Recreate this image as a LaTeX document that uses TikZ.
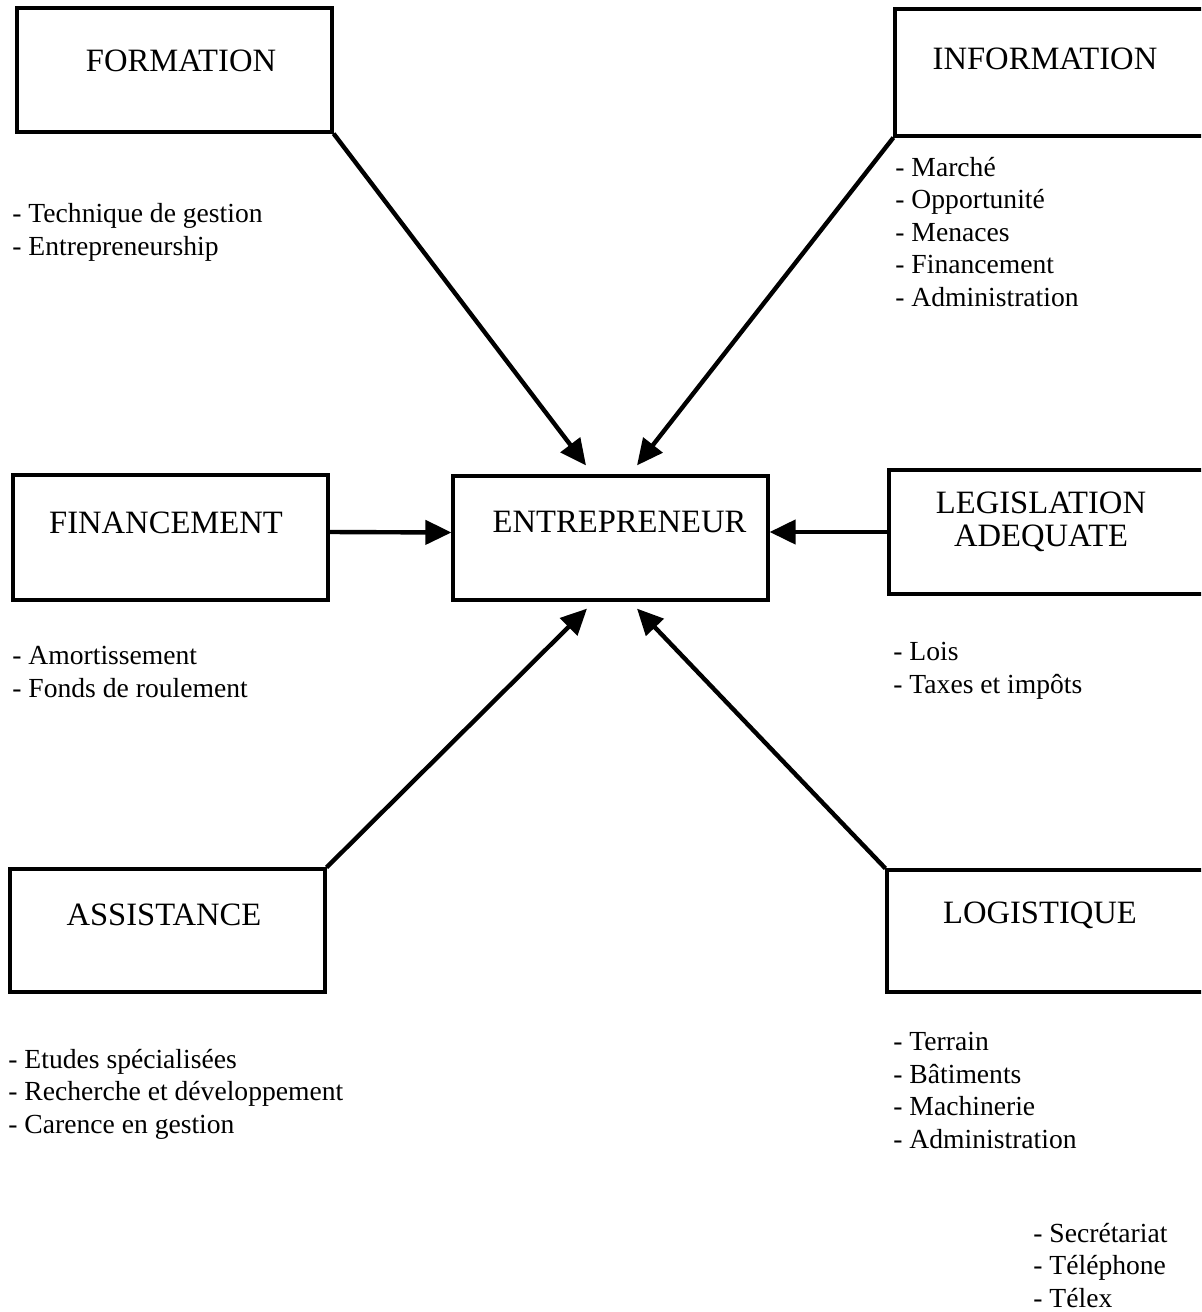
\documentclass[tikz,border=0pt]{standalone}
\usepackage{fontspec}
\setmainfont{Liberation Serif}
\usetikzlibrary{arrows.meta,positioning}

\begin{document}
\begin{tikzpicture}[x=0.5pt, y=-0.5pt,
    box/.style={draw, line width=1.6pt, inner sep=0pt, minimum width=157.5pt, minimum height=62pt},
    titre/.style={font=\fontsize{16.3}{16.5}\selectfont, align=center, inner sep=0pt},
    liste/.style={font=\fontsize{13.8}{16.2}\selectfont, align=left, anchor=base west, inner sep=0pt},
    fleche/.style={line width=2.2pt, -{Triangle[length=13pt,width=12pt]}}]
      \useasboundingbox (0,0) rectangle (1201,1312);
      \clip (0,0) rectangle (1201,1312);
      % les cadres
      \node[box] (form) at (174.5,70) {};
      \node[box, minimum width=160pt, minimum height=63.5pt] (info) at (1055,72.5) {};
      \node[box] (entr) at (610.5,538) {};
      \node[box, minimum height=62.5pt] (fin) at (170.5,537.5) {};
      \node[box, minimum width=163pt] (legis) at (1052,532) {};
      \node[box, minimum height=61.5pt] (assist) at (167.5,930.5) {};
      \node[box, minimum width=164pt, minimum height=61pt] (logis) at (1051,931) {};
      % les titres
      \node[titre] (tform) at (181,61) {FORMATION};
      \node[titre] (tinfo) at (1045,59) {INFORMATION};
      \node[titre] (tentr) at (619.5,522) {ENTREPRENEUR};
      \node[titre] (tfin) at (166,523) {FINANCEMENT};
      \node[titre, anchor=north] (tlegis) at (1041,492) {LEGISLATION\\ADEQUATE};
      \node[titre] (tassist) at (164,915) {ASSISTANCE};
      \node[titre] (tlogis) at (1040,915) {LOGISTIQUE};
      % les listes (ancre = ligne de base de la derniere ligne)
      \node[liste] (lform) at (12,255) {- Technique de gestion\\- Entrepreneurship};
      \node[liste] (linfo) at (895,306) {- Marché\\- Opportunité\\- Menaces\\- Financement\\- Administration};
      \node[liste] (lfin) at (12,697) {- Amortissement\\- Fonds de roulement};
      \node[liste] (llegis) at (893,693) {- Lois\\- Taxes et impôts};
      \node[liste] (lassist) at (8,1133) {- Etudes spécialisées\\- Recherche et développement\\- Carence en gestion};
      \node[liste] (llogis) at (893,1148) {- Terrain\\- Bâtiments\\- Machinerie\\- Administration};
      \node[liste] (ladmin) at (1033,1307) {- Secrétariat\\- Téléphone\\- Télex};
      % les fleches
      \draw[fleche] (form.south east) -- ([xshift=-12.25pt,yshift=4.5pt]entr.north);
      \draw[fleche] (info.south west) -- ([xshift=13.25pt,yshift=4.5pt]entr.north);
      \draw[fleche] ([yshift=2.75pt]fin.east) -- ([yshift=2.75pt]entr.west);
      \draw[fleche] (legis.west) -- (entr.east |- legis.west);
      \draw[fleche] (assist.north east) -- ([xshift=-11.75pt,yshift=-3.5pt]entr.south);
      \draw[fleche] (logis.north west) -- ([xshift=13.25pt,yshift=-3.5pt]entr.south);
\end{tikzpicture}
\end{document}
